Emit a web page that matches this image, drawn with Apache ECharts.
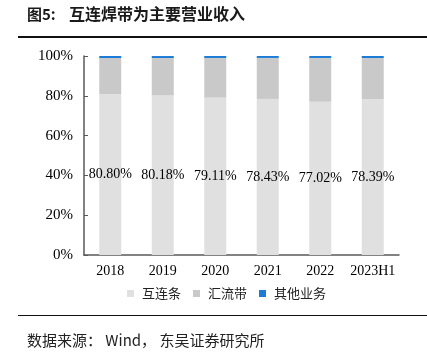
<html>
<head>
    <meta charset="utf-8">
    <title>互连焊带为主要营业收入</title>
    <script src="https://cdn.jsdelivr.net/npm/echarts@6/dist/echarts.min.js"></script>
</head>
<body style="margin:0;">
    <div id="main" style="width: 427px;height:354px;"></div>
    <script type="text/javascript">
        // 数据
        var years = ['2018', '2019', '2020', '2021', '2022', '2023H1'];
        var hulian = [80.80, 80.18, 79.11, 78.43, 77.02, 78.39];   // 互连条
        var huiliu = [18.2, 18.8, 19.9, 20.6, 22.0, 20.6];         // 汇流带
        var qita = [1.0, 1.0, 1.0, 1.0, 1.0, 1.0];                 // 其他业务
        var yTicks = [0, 20, 40, 60, 80, 100];

        var serif = '"Liberation Serif", "Noto Sans CJK SC", serif';
        var myChart = echarts.init(document.getElementById('main'));

        var option = {
            backgroundColor: '#fff',
            animation: false,
            graphic: [
                { type: 'text', left: 27, top: 7, style: { text: '图5:', font: 'bold 15px "Noto Sans CJK SC"', fill: '#1a1a1a' } },
                { type: 'text', left: 69, top: 6, style: { text: '互连焊带为主要营业收入', font: 'bold 16px "Noto Sans CJK SC"', fill: '#1a1a1a' } },
                { type: 'rect', shape: { x: 18, y: 36, width: 409, height: 2 }, style: { fill: '#111' } },
                { type: 'rect', shape: { x: 18, y: 315, width: 409, height: 1 }, style: { fill: '#111' } },
                { type: 'text', left: 27, top: 333, style: { text: '数据来源： Wind， 东吴证券研究所', font: '15px "Noto Sans CJK SC"', fill: '#222' } }
            ],
            grid: { left: 84, right: 28, top: 56, bottom: 99 },
            legend: {
                left: 122,
                top: 282,
                icon: 'rect',
                itemWidth: 7,
                itemHeight: 7,
                itemGap: 12,
                textStyle: { fontFamily: '"Noto Sans CJK SC"', fontSize: 13, color: '#222', padding: [0, 0, 0, 3] },
                data: ['互连条', '汇流带', '其他业务']
            },
            xAxis: {
                type: 'category',
                data: years,
                axisLine: { lineStyle: { color: '#595959', width: 1.5 } },
                axisTick: { inside: true, length: 4, lineStyle: { color: '#595959' } },
                axisLabel: { interval: 0, color: '#000', fontFamily: serif, fontSize: 14, margin: 9 }
            },
            yAxis: {
                type: 'value',
                min: 0,
                max: 100,
                interval: 20,
                splitLine: { show: false },
                axisLine: { show: true, lineStyle: { color: '#595959', width: 1.5 } },
                axisTick: { show: true, inside: true, length: 4, lineStyle: { color: '#595959' } },
                axisLabel: {
                    color: '#000', fontFamily: serif, fontSize: 15, margin: 11,
                    formatter: function (v) { return yTicks.indexOf(v) >= 0 ? v + '%' : ''; }
                }
            },
            series: [
                {
                    name: '互连条', type: 'bar', stack: 'all', barWidth: 22,
                    itemStyle: { color: '#e0e0e0' },
                    label: {
                        show: true, position: 'inside', color: '#000', fontFamily: serif, fontSize: 14,
                        formatter: function (p) { return p.value.toFixed(2) + '%'; }
                    },
                    data: hulian
                },
                { name: '汇流带', type: 'bar', stack: 'all', itemStyle: { color: '#c9c9c9' }, data: huiliu },
                { name: '其他业务', type: 'bar', stack: 'all', itemStyle: { color: '#1b7bd6' }, data: qita }
            ]
        };
        myChart.setOption(option);
    </script>
</body>
</html>
